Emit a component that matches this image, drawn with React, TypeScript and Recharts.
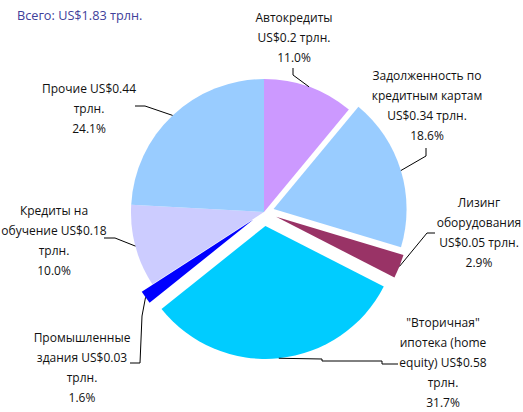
import React from 'react';
import { PieChart, Pie, Cell } from 'recharts';

const categories = [
  'Автокредиты',
  'Задолженность по кредитным картам',
  'Лизинг оборудования',
  '"Вторичная" ипотека (home equity)',
  'Промышленные здания',
  'Кредиты на обучение',
  'Прочие',
];
const amounts = [0.2, 0.34, 0.05, 0.58, 0.03, 0.18, 0.44];
const shares = [11.0, 18.6, 2.9, 31.7, 1.6, 10.0, 24.1];
const colors = ['#cc99ff', '#99ccff', '#993366', '#00ccff', '#0000ff', '#ccccff', '#99ccff'];
const totalText = 'Всего: US$1.83 трлн.';

// label wording as it wraps on the picture; {v} = amount, {p} = share
const labelLines = [
  ['Автокредиты', 'US${v} трлн.', '{p}'],
  ['Задолженность по', 'кредитным картам', 'US${v} трлн.', '{p}'],
  ['Лизинг', 'оборудования', 'US${v} трлн.', '{p}'],
  ['"Вторичная"', 'ипотека (home', 'equity) US${v}', 'трлн.', '{p}'],
  ['Промышленные', 'здания US${v}', 'трлн.', '{p}'],
  ['Кредиты на', 'обучение US${v}', 'трлн.', '{p}'],
  ['Прочие US${v}', 'трлн.', '{p}'],
];

const data = categories.map((name, i) => ({ name, value: shares[i], amount: amounts[i] }));

// layout
const CX = 264;
const CY = 212;
const R = 133;
const explode = [0, 10, 13, 14, 13, 0, 0];
const labelPos = [
  { x: 294, y: 17 },
  { x: 427, y: 75 },
  { x: 479, y: 202 },
  { x: 443, y: 322 },
  { x: 82, y: 337 },
  { x: 54, y: 210 },
  { x: 89, y: 88 },
];
const leaders = [
  [[293, 75], [293, 68]],
  [[426, 156], [426, 148]],
  [[427, 233], [435, 233]],
  [[322, 359], [322, 361], [382, 361], [382, 364], [398, 364]],
  [[142, 316], [140, 363], [130, 363]],
  [[115, 238], [104, 238]],
  [[145, 106], [135, 106]],
];
const LINE_H = 20;
const RADIAN = Math.PI / 180;

const total = shares.reduce((a, b) => a + b, 0);
const midDeg = shares.map((s, i) => {
  const before = shares.slice(0, i).reduce((a, b) => a + b, 0);
  return ((before + s / 2) / total) * 360; // clockwise from top
});

const fmt = (t: string, i: number) =>
  t.replace('{v}', String(amounts[i])).replace('{p}', shares[i].toFixed(1) + '%');

const renderLabel = (props: any) => {
  const { cx, cy, midAngle, outerRadius, index } = props;
  const d = explode[index];
  const ux = Math.cos(-midAngle * RADIAN);
  const uy = Math.sin(-midAngle * RADIAN);
  const sx = cx + (outerRadius + d) * ux;
  const sy = cy + (outerRadius + d) * uy;
  const pts = [[sx, sy], ...leaders[index]].map((p) => p.join(',')).join(' ');
  const pos = labelPos[index];
  return (
    <g key={`lbl-${index}`}>
      <polyline points={pts} fill="none" stroke="#000" strokeWidth={1} />
      <text
        x={pos.x}
        y={pos.y}
        textAnchor="middle"
        fontFamily="'Open Sans', sans-serif"
        fontSize={12}
        fill="#111"
      >
        {labelLines[index].map((t, k) => (
          <tspan key={k} x={pos.x} y={pos.y + k * LINE_H} dominantBaseline="central">
            {fmt(t, index)}
          </tspan>
        ))}
      </text>
    </g>
  );
};

const App: React.FC = () => {
  return (
    <div style={{ position: 'absolute', left: 0, top: 0, width: 523, height: 412, background: '#fff' }}>
      <div
        style={{
          position: 'absolute',
          left: 17,
          top: 6,
          fontFamily: "'Open Sans', sans-serif",
          fontSize: 12.7,
          color: '#40409a',
          zIndex: 2,
        }}
      >
        {totalText}
      </div>
      <PieChart width={523} height={412} margin={{ top: 0, right: 0, bottom: 0, left: 0 }}>
        {/* base pie: slices that stay in place, plus all labels */}
        <Pie
          data={data}
          dataKey="value"
          cx={CX}
          cy={CY}
          outerRadius={R}
          startAngle={90}
          endAngle={-270}
          stroke="none"
          label={renderLabel}
          labelLine={false}
          isAnimationActive={false}
        >
          {data.map((_, i) => (
            <Cell key={`base-${i}`} fill={explode[i] ? 'none' : colors[i]} />
          ))}
        </Pie>
        {/* pulled-out slices */}
        {data.map((_, j) =>
          explode[j] ? (
            <Pie
              key={`ex-${j}`}
              data={data}
              dataKey="value"
              cx={CX + explode[j] * Math.sin(midDeg[j] * RADIAN)}
              cy={CY - explode[j] * Math.cos(midDeg[j] * RADIAN)}
              outerRadius={R}
              startAngle={90}
              endAngle={-270}
              stroke="none"
              isAnimationActive={false}
            >
              {data.map((__, i) => (
                <Cell key={`c-${j}-${i}`} fill={i === j ? colors[i] : 'none'} />
              ))}
            </Pie>
          ) : null
        )}
      </PieChart>
    </div>
  );
};

export default App;
